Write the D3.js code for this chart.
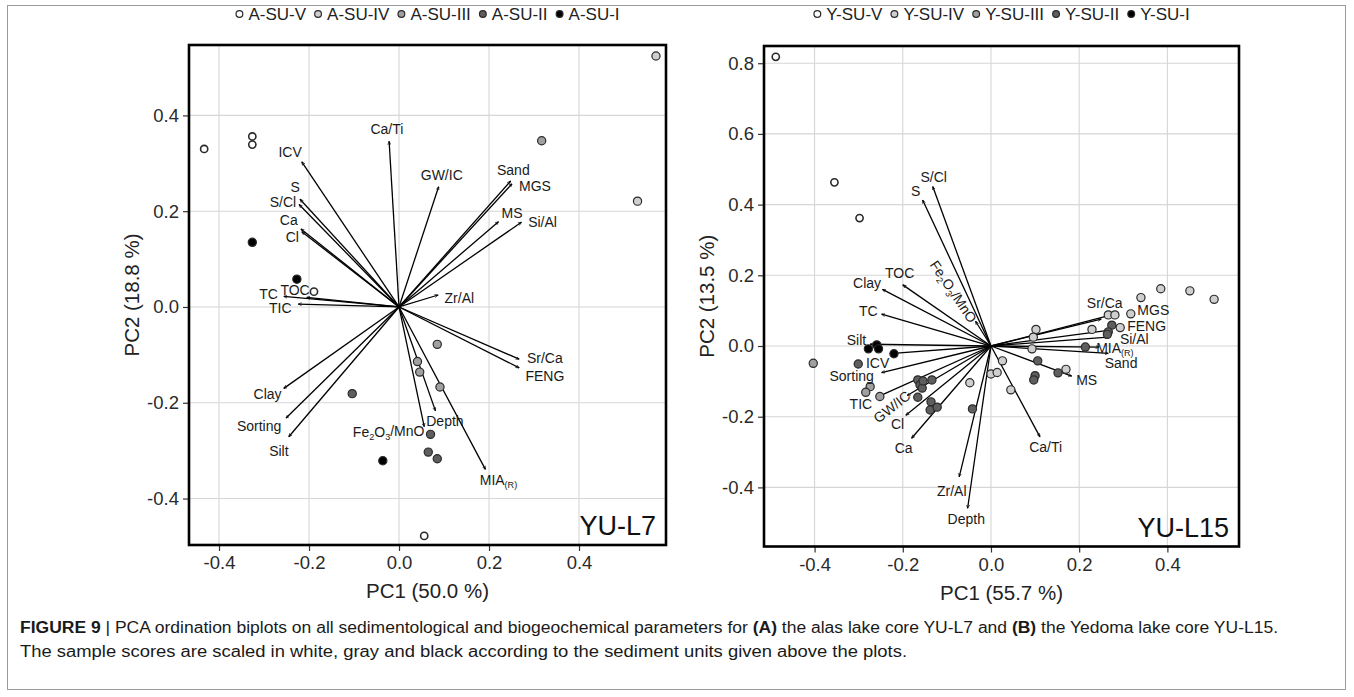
<!DOCTYPE html>
<html>
<head>
<meta charset="utf-8">
<script src="https://cdn.jsdelivr.net/npm/d3@7"></script>
<style>
  body { margin: 0; background: #fff; }
  svg { display: block; font-family: "Liberation Sans", Arial, sans-serif; }
</style>
</head>
<body>
<svg id="fig" width="1354" height="697"></svg>
<script>
// ---- data ----
const unitsA = ["A-SU-V", "A-SU-IV", "A-SU-III", "A-SU-II", "A-SU-I"];
const unitsY = ["Y-SU-V", "Y-SU-IV", "Y-SU-III", "Y-SU-II", "Y-SU-I"];

// sample scores: [PC1, PC2, unit index]
const scoresA = [
  [-0.433, 0.330, 0], [-0.326, 0.356, 0], [-0.326, 0.339, 0], [-0.189, 0.032, 0], [0.056, -0.478, 0],
  [0.571, 0.524, 1], [0.530, 0.221, 1],
  [0.317, 0.347, 2], [0.085, -0.078, 2], [0.041, -0.114, 2], [0.046, -0.136, 2], [0.091, -0.167, 2],
  [-0.104, -0.181, 3], [0.070, -0.266, 3], [0.065, -0.303, 3], [0.085, -0.317, 3],
  [-0.326, 0.135, 4], [-0.227, 0.058, 4], [-0.036, -0.321, 4]
];

const scoresY = [
  [-0.488, 0.818, 0], [-0.355, 0.463, 0], [-0.298, 0.362, 0],
  [0.385, 0.162, 1], [0.451, 0.156, 1], [0.506, 0.132, 1], [0.340, 0.137, 1], [0.317, 0.091, 1],
  [0.266, 0.088, 1], [0.281, 0.088, 1], [0.229, 0.047, 1], [0.293, 0.052, 1], [0.102, 0.047, 1],
  [0.096, 0.025, 1], [0.093, -0.008, 1], [0.170, -0.066, 1], [0.000, -0.079, 1], [0.014, -0.075, 1],
  [0.026, -0.042, 1], [0.045, -0.124, 1], [-0.048, -0.104, 1],
  [-0.403, -0.049, 2], [-0.274, -0.115, 2], [-0.284, -0.131, 2], [-0.252, -0.143, 2],
  [0.274, 0.059, 3], [0.266, 0.040, 3], [0.264, 0.033, 3], [0.214, -0.003, 3], [0.106, -0.042, 3],
  [0.100, -0.084, 3], [0.097, -0.096, 3], [0.152, -0.076, 3], [-0.301, -0.051, 3], [-0.166, -0.096, 3],
  [-0.161, -0.110, 3], [-0.156, -0.119, 3], [-0.154, -0.099, 3], [-0.134, -0.096, 3], [-0.166, -0.145, 3],
  [-0.136, -0.158, 3], [-0.138, -0.181, 3], [-0.122, -0.173, 3], [-0.042, -0.178, 3],
  [-0.259, 0.003, 4], [-0.278, -0.008, 4], [-0.255, -0.008, 4], [-0.220, -0.022, 4]
];

// variable loadings: name, arrow tip (x, y), label centre (lx, ly), label angle
const loadingsA = [
  { name: "ICV", x: -0.216, y: 0.303, lx: -0.242, ly: 0.324 },
  { name: "S", x: -0.220, y: 0.225, lx: -0.231, ly: 0.251 },
  { name: "S/Cl", x: -0.222, y: 0.214, lx: -0.258, ly: 0.219 },
  { name: "Ca", x: -0.218, y: 0.163, lx: -0.245, ly: 0.181 },
  { name: "Cl", x: -0.216, y: 0.157, lx: -0.237, ly: 0.146 },
  { name: "TC", x: -0.256, y: 0.022, lx: -0.290, ly: 0.027 },
  { name: "TOC", x: -0.205, y: 0.020, lx: -0.231, ly: 0.035 },
  { name: "TIC", x: -0.224, y: 0.006, lx: -0.264, ly: -0.003 },
  { name: "Clay", x: -0.256, y: -0.170, lx: -0.292, ly: -0.181 },
  { name: "Sorting", x: -0.251, y: -0.232, lx: -0.311, ly: -0.248 },
  { name: "Silt", x: -0.245, y: -0.271, lx: -0.267, ly: -0.301 },
  { name: "Ca/Ti", x: -0.022, y: 0.346, lx: -0.027, ly: 0.371 },
  { name: "GW/IC", x: 0.088, y: 0.251, lx: 0.095, ly: 0.276 },
  { name: "Sand", x: 0.248, y: 0.263, lx: 0.254, ly: 0.286 },
  { name: "MGS", x: 0.251, y: 0.257, lx: 0.302, ly: 0.253 },
  { name: "MS", x: 0.221, y: 0.178, lx: 0.251, ly: 0.197 },
  { name: "Si/Al", x: 0.272, y: 0.177, lx: 0.319, ly: 0.178 },
  { name: "Zr/Al", x: 0.087, y: 0.025, lx: 0.134, ly: 0.018 },
  { name: "Sr/Ca", x: 0.267, y: -0.109, lx: 0.324, ly: -0.106 },
  { name: "FENG", x: 0.267, y: -0.127, lx: 0.324, ly: -0.144 },
  { name: "Depth", x: 0.081, y: -0.217, lx: 0.102, ly: -0.239 },
  { name: "Fe_{2}O_{3}/MnO", x: 0.056, y: -0.250, lx: -0.023, ly: -0.260 },
  { name: "MIA_{(R)}", x: 0.192, y: -0.339, lx: 0.221, ly: -0.361 }
];

const loadingsY = [
  { name: "S/Cl", x: -0.132, y: 0.451, lx: -0.130, ly: 0.479 },
  { name: "S", x: -0.155, y: 0.413, lx: -0.171, ly: 0.438 },
  { name: "Fe_{2}O_{3}/MnO", x: -0.035, y: 0.070, lx: -0.085, ly: 0.154, angle: 56 },
  { name: "TOC", x: -0.200, y: 0.173, lx: -0.207, ly: 0.206 },
  { name: "Clay", x: -0.246, y: 0.160, lx: -0.281, ly: 0.177 },
  { name: "TC", x: -0.248, y: 0.090, lx: -0.278, ly: 0.099 },
  { name: "Silt", x: -0.274, y: 0.005, lx: -0.305, ly: 0.017 },
  { name: "ICV", x: -0.222, y: -0.021, lx: -0.257, ly: -0.047 },
  { name: "Sorting", x: -0.248, y: -0.075, lx: -0.316, ly: -0.085 },
  { name: "TIC", x: -0.252, y: -0.141, lx: -0.295, ly: -0.164 },
  { name: "GW/IC", x: -0.190, y: -0.140, lx: -0.225, ly: -0.172, angle: -38 },
  { name: "Cl", x: -0.193, y: -0.196, lx: -0.212, ly: -0.221 },
  { name: "Ca", x: -0.180, y: -0.261, lx: -0.198, ly: -0.289 },
  { name: "Zr/Al", x: -0.072, y: -0.370, lx: -0.089, ly: -0.409 },
  { name: "Depth", x: -0.053, y: -0.459, lx: -0.056, ly: -0.490 },
  { name: "Ca/Ti", x: 0.111, y: -0.257, lx: 0.124, ly: -0.285 },
  { name: "MS", x: 0.183, y: -0.085, lx: 0.217, ly: -0.096 },
  { name: "Sand", x: 0.266, y: -0.021, lx: 0.295, ly: -0.048 },
  { name: "MIA_{(R)}", x: 0.245, y: -0.003, lx: 0.281, ly: -0.006 },
  { name: "Si/Al", x: 0.265, y: 0.025, lx: 0.325, ly: 0.019 },
  { name: "FENG", x: 0.270, y: 0.045, lx: 0.353, ly: 0.057 },
  { name: "MGS", x: 0.265, y: 0.085, lx: 0.368, ly: 0.102 },
  { name: "Sr/Ca", x: 0.250, y: 0.076, lx: 0.258, ly: 0.121 }
];

const ticksA_x = [-0.4, -0.2, 0.0, 0.2, 0.4];
const ticksA_y = [-0.4, -0.2, 0.0, 0.2, 0.4];
const ticksY_x = [-0.4, -0.2, 0.0, 0.2, 0.4];
const ticksY_y = [-0.4, -0.2, 0.0, 0.2, 0.4, 0.6, 0.8];

const captionLine1 = [
  ["FIGURE 9", true],
  [" | PCA ordination biplots on all sedimentological and biogeochemical parameters for ", false],
  ["(A)", true],
  [" the alas lake core YU-L7 and ", false],
  ["(B)", true],
  [" the Yedoma lake core YU-L15.", false]
];
const captionLine2 = "The sample scores are scaled in white, gray and black according to the sediment units given above the plots.";

const unitFill = ["#ffffff", "#cfcfcf", "#a0a0a0", "#5e5e5e", "#000000"];

// ---- drawing ----
const svg = d3.select("#fig");
svg.append("rect").attr("width", 1354).attr("height", 697).attr("fill", "#fff");
svg.append("rect")
  .attr("x", 7.5).attr("y", 5.5).attr("width", 1338).attr("height", 684)
  .attr("fill", "none").attr("stroke", "#9a9a9a").attr("stroke-width", 1);

const defs = svg.append("defs");
defs.append("marker")
  .attr("id", "tip")
  .attr("viewBox", "0 -4 8 8")
  .attr("refX", 7).attr("refY", 0)
  .attr("markerWidth", 4).attr("markerHeight", 4)
  .attr("markerUnits", "userSpaceOnUse")
  .attr("orient", "auto")
  .append("path")
  .attr("d", "M0,-3L7,0L0,3")
  .attr("fill", "none").attr("stroke", "#000").attr("stroke-width", 1.3);

const fmt = d => d.toFixed(1);

// labels like "Fe_{2}O_{3}/MnO" get real subscripts
function writeLabel(sel, name) {
  const parts = name.split(/(_\{[^}]*\})/).filter(p => p.length);
  let down = false;
  parts.forEach(p => {
    if (p.startsWith("_{")) {
      sel.append("tspan").attr("font-size", "65%").attr("dy", "0.35em").text(p.slice(2, -1));
      down = true;
    } else {
      const t = sel.append("tspan").text(p);
      if (down) { t.attr("dy", "-0.23em"); down = false; }
    }
  });
}

function drawBiplot(opts) {
  const x = d3.scaleLinear().domain(opts.xDomain).range([opts.left, opts.right]);
  const y = d3.scaleLinear().domain(opts.yDomain).range([opts.bottom, opts.top]);
  const g = svg.append("g");

  // grid
  g.append("g").selectAll("line").data(opts.xTicks).join("line")
    .attr("x1", d => x(d)).attr("x2", d => x(d))
    .attr("y1", opts.top).attr("y2", opts.bottom)
    .attr("stroke", "#d6d6d6").attr("stroke-width", 1.1);
  g.append("g").selectAll("line").data(opts.yTicks).join("line")
    .attr("y1", d => y(d)).attr("y2", d => y(d))
    .attr("x1", opts.left).attr("x2", opts.right)
    .attr("stroke", "#d6d6d6").attr("stroke-width", 1.1);

  // axes
  const xAxis = g.append("g")
    .attr("transform", `translate(0,${opts.bottom})`)
    .call(d3.axisBottom(x).tickValues(opts.xTicks).tickFormat(fmt).tickSize(6).tickPadding(5));
  const yAxis = g.append("g")
    .attr("transform", `translate(${opts.left},0)`)
    .call(d3.axisLeft(y).tickValues(opts.yTicks).tickFormat(fmt).tickSize(6).tickPadding(4));
  [xAxis, yAxis].forEach(a => {
    a.select(".domain").remove();
    a.selectAll(".tick line").attr("stroke", "#333").attr("stroke-width", 1.2);
    a.selectAll(".tick text")
      .attr("font-family", "Liberation Sans, Arial, sans-serif")
      .attr("font-size", 18.5).attr("fill", "#2a2a2a");
  });

  // axis titles
  g.append("text")
    .attr("x", (opts.left + opts.right) / 2).attr("y", opts.bottom + 53)
    .attr("text-anchor", "middle").attr("font-size", 20.5).attr("fill", "#222")
    .text(opts.xTitle);
  g.append("text")
    .attr("transform", `translate(${opts.left - 50},${(opts.top + opts.bottom) / 2}) rotate(-90)`)
    .attr("text-anchor", "middle").attr("font-size", 20.5).attr("fill", "#222")
    .text(opts.yTitle);

  // loading arrows
  g.append("g").selectAll("line").data(opts.loadings).join("line")
    .attr("x1", x(0)).attr("y1", y(0))
    .attr("x2", d => x(d.x)).attr("y2", d => y(d.y))
    .attr("stroke", "#000").attr("stroke-width", 1.3)
    .attr("marker-end", "url(#tip)");

  // scores
  g.append("g").selectAll("circle").data(opts.scores).join("circle")
    .attr("cx", d => x(d[0])).attr("cy", d => y(d[1]))
    .attr("r", d => d[2] === 0 ? 3.6 : 4.1)
    .attr("fill", d => unitFill[d[2]])
    .attr("stroke", "#2a2a2a").attr("stroke-width", d => d[2] === 0 ? 1.6 : 1.2);

  // loading labels
  g.append("g").selectAll("text").data(opts.loadings).join("text")
    .attr("transform", d => `translate(${x(d.lx)},${y(d.ly)}) rotate(${d.angle || 0})`)
    .attr("text-anchor", "middle").attr("dy", "0.36em")
    .attr("font-size", 14).attr("fill", "#1a1a1a")
    .each(function (d) { writeLabel(d3.select(this), d.name); });

  // frame
  g.append("rect")
    .attr("x", opts.left).attr("y", opts.top)
    .attr("width", opts.right - opts.left).attr("height", opts.bottom - opts.top)
    .attr("fill", "none").attr("stroke", "#000").attr("stroke-width", 2.6);

  // core name
  g.append("text")
    .attr("x", opts.right - 10).attr("y", opts.bottom - 10)
    .attr("text-anchor", "end").attr("font-size", 27).attr("fill", "#111")
    .text(opts.name);

  // legend above the panel
  const leg = svg.append("g");
  let cx = 0;
  opts.units.forEach((u, i) => {
    leg.append("circle").attr("cx", cx + 4).attr("cy", 0).attr("r", 3.4)
      .attr("fill", unitFill[i]).attr("stroke", "#2a2a2a").attr("stroke-width", 1.2);
    const t = leg.append("text").attr("x", cx + 13).attr("y", 0).attr("dy", "0.36em")
      .attr("font-size", 17).attr("fill", "#222").text(u);
    cx += 13 + t.node().getComputedTextLength() + 8;
  });
  cx -= 8;
  leg.attr("transform", `translate(${(opts.left + opts.right) / 2 - cx / 2},${opts.legendY})`);
}

drawBiplot({
  units: unitsA, scores: scoresA, loadings: loadingsA,
  xDomain: [-0.4667, 0.5933], yDomain: [-0.497, 0.547],
  left: 189, right: 666, top: 45, bottom: 545,
  xTicks: ticksA_x, yTicks: ticksA_y,
  xTitle: "PC1 (50.0 %)", yTitle: "PC2 (18.8 %)", name: "YU-L7", legendY: 14
});

drawBiplot({
  units: unitsY, scores: scoresY, loadings: loadingsY,
  xDomain: [-0.5147, 0.5624], yDomain: [-0.5672, 0.8487],
  left: 764, right: 1239, top: 46, bottom: 546.5,
  xTicks: ticksY_x, yTicks: ticksY_y,
  xTitle: "PC1 (55.7 %)", yTitle: "PC2 (13.5 %)", name: "YU-L15", legendY: 14
});

// caption
const cap = svg.append("g").attr("font-size", 16).attr("fill", "#1a1a1a");
const line1 = cap.append("text").attr("x", 20).attr("y", 633)
  .attr("textLength", 1258).attr("lengthAdjust", "spacingAndGlyphs");
captionLine1.forEach(([s, bold]) => {
  line1.append("tspan").attr("font-weight", bold ? "bold" : null).text(s);
});
cap.append("text").attr("x", 20).attr("y", 657)
  .attr("textLength", 887).attr("lengthAdjust", "spacingAndGlyphs")
  .text(captionLine2);
</script>
</body>
</html>
